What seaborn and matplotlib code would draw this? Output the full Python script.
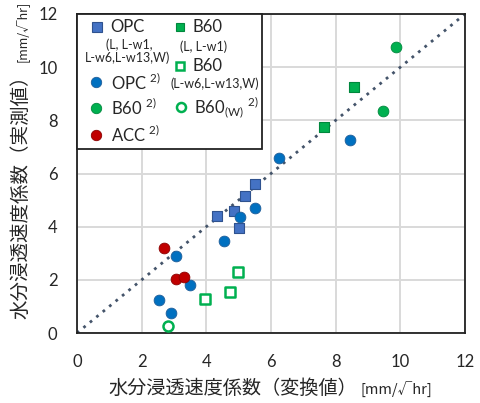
import matplotlib
matplotlib.use("Agg")
import matplotlib.pyplot as plt
from matplotlib.patches import Rectangle
from matplotlib.lines import Line2D
import seaborn as sns

# Converted (x) vs measured (y) water penetration rate coefficients [mm/√hr]
opc_sq_x = [4.32, 4.87, 5.02, 5.20, 5.49]
opc_sq_y = [4.39, 4.59, 3.96, 5.14, 5.61]

b60_sq_x = [7.63, 8.58]
b60_sq_y = [7.74, 9.26]

b60_open_sq_x = [3.96, 4.72, 4.99]
b60_open_sq_y = [1.27, 1.53, 2.28]

opc_x = [2.54, 2.91, 3.07, 3.48, 4.56, 5.05, 5.49, 6.26, 8.45]
opc_y = [1.26, 0.74, 2.90, 1.80, 3.45, 4.36, 4.71, 6.59, 7.26]

b60_x = [9.46, 9.87]
b60_y = [8.36, 10.77]

acc_x = [2.70, 3.07, 3.31]
acc_y = [3.20, 2.05, 2.11]

b60w_x = [2.81]
b60w_y = [0.26]

ticks = [0, 2, 4, 6, 8, 10, 12]
x_label = "水分浸透速度係数（変換値）"
y_label = "水分浸透速度係数（実測値）"
unit = "[mm/√hr]"

BLUE_SQ = "#4472C4"
BLUE = "#0070C0"
GREEN = "#00B050"
RED = "#C00000"
LINE = "#44546A"
CJK = ["Noto Sans CJK JP", "DejaVu Sans"]

sns.set_theme(style="whitegrid")
plt.rcParams["font.family"] = ["Lato", "Noto Sans CJK JP", "DejaVu Sans"]

W, H = 481, 403
fig = plt.figure(figsize=(W / 100, H / 100), dpi=100)
ax = fig.add_axes([77 / W, 1 - 333 / H, (465 - 77) / W, (333 - 14) / H])


def fp(px, py):
    """Figure-fraction position from pixel coordinates (origin top-left)."""
    return px / W, 1 - py / H


# 1:1 reference line
ax.plot(ticks, ticks, linestyle=(0, (1, 2)), color=LINE, lw=2.0, zorder=2)

sq_kw = dict(marker="s", s=46, zorder=3, ax=ax, legend=False)
sns.scatterplot(x=opc_sq_x, y=opc_sq_y, color=BLUE_SQ, edgecolor="#2F528F", linewidth=0.8, **sq_kw)
sns.scatterplot(x=b60_sq_x, y=b60_sq_y, color=GREEN, edgecolor="#00873D", linewidth=0.8, **sq_kw)
sns.scatterplot(x=b60_open_sq_x, y=b60_open_sq_y, color="white", edgecolor=GREEN, linewidth=1.8,
                marker="s", s=44, zorder=3, ax=ax, legend=False)

ci_kw = dict(marker="o", s=60, zorder=4, ax=ax, legend=False, linewidth=0.6)
sns.scatterplot(x=opc_x, y=opc_y, color=BLUE, edgecolor="#1F5D99", **ci_kw)
sns.scatterplot(x=b60_x, y=b60_y, color=GREEN, edgecolor="#00873D", **ci_kw)
sns.scatterplot(x=acc_x, y=acc_y, color=RED, edgecolor="#8B0000", **ci_kw)
sns.scatterplot(x=b60w_x, y=b60w_y, color="white", edgecolor=GREEN, linewidth=1.8,
                marker="o", s=52, zorder=4, ax=ax, legend=False)

ax.set_xlim(0, 12)
ax.set_ylim(0, 12)
ax.set_xticks(ticks)
ax.set_yticks(ticks)
ax.set_xticklabels([str(t) for t in ticks], fontsize=12)
ax.set_yticklabels([str(t) for t in ticks], fontsize=12)
ax.tick_params(axis="x", pad=15, length=0)
ax.tick_params(axis="y", pad=14, length=0)
ax.grid(True, color="#D9D9D9", lw=1.4)
ax.set_facecolor("white")
for sp in ax.spines.values():
    sp.set_color("#222222")
    sp.set_linewidth(1.3)

# Axis titles with smaller unit text
fig.text(*fp(357, 388), x_label, ha="right", va="center", fontsize=13.8, family=CJK)
fig.text(*fp(360, 390), unit, ha="left", va="center", fontsize=10.5, family=CJK)
fig.text(*fp(21, 319), y_label, ha="center", va="bottom", rotation=90, fontsize=14, family=CJK)
fig.text(*fp(22, 62), unit, ha="center", va="bottom", rotation=90, fontsize=9, family=CJK)

# Legend box
x0, y0 = fp(77, 149)
x1, y1 = fp(262, 14)
fig.patches.append(Rectangle((x0, y0), x1 - x0, y1 - y0, transform=fig.transFigure,
                             facecolor="white", edgecolor="#222222", lw=1.3, zorder=5))


def marker(px, py, **kw):
    fig.add_artist(Line2D([px / W], [1 - py / H], transform=fig.transFigure,
                          linestyle="none", zorder=6, **kw))


def label(px, py, s, size=12, ha="left"):
    fig.text(*fp(px, py), s, ha=ha, va="center", fontsize=size, zorder=7)


sup = lambda s: s + r"$^{\mathregular{2)}}$"

marker(97, 27, marker="s", ms=6.5, mfc=BLUE_SQ, mec="#2F528F", mew=0.8)
label(110, 27, "OPC")
label(129, 45, "(L, L-w1,", size=9, ha="center")
label(128, 58, "L-w6,L-w13,W)", size=9, ha="center")
marker(96, 82, marker="o", ms=7.5, mfc=BLUE, mec="#1F5D99", mew=0.6)
label(111, 83, sup("OPC "))
marker(96, 108, marker="o", ms=7.5, mfc=GREEN, mec="#00873D", mew=0.6)
label(111, 108, sup("B60 "))
marker(96, 135, marker="o", ms=7.5, mfc=RED, mec="#8B0000", mew=0.6)
label(111, 135, sup("ACC "))

marker(180, 27, marker="s", ms=5.5, mfc=GREEN, mec="#00873D", mew=0.8)
label(192, 27, "B60")
label(204, 47, "(L, L-w1)", size=9, ha="center")
marker(180, 66, marker="s", ms=5.5, mfc="white", mec=GREEN, mew=1.8)
label(193, 66, "B60")
label(215, 84, "(L-w6,L-w13,W)", size=9, ha="center")
marker(181, 107, marker="o", ms=6.5, mfc="white", mec=GREEN, mew=1.8)
label(194, 108, r"B60$_{\mathregular{(W)}}$ $^{\mathregular{2)}}$")

fig.savefig("out.png", dpi=100)
